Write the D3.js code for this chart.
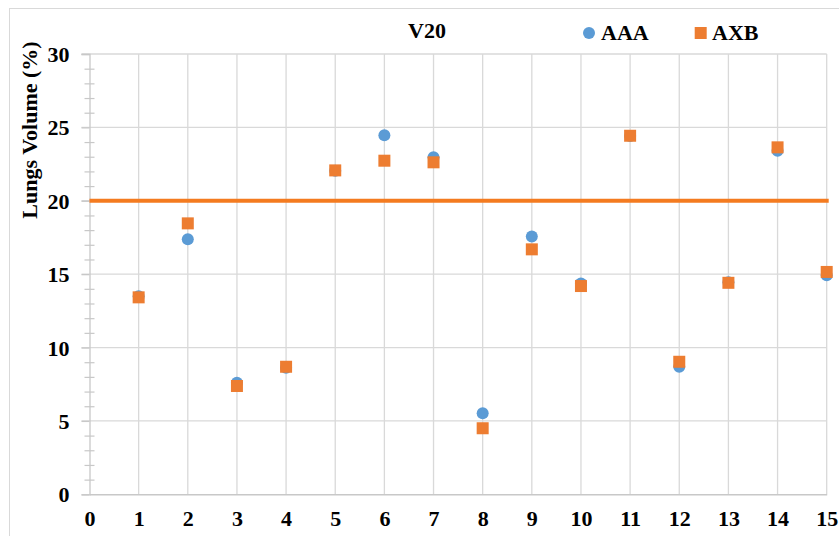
<!DOCTYPE html>
<html><head><meta charset="utf-8">
<script src="https://cdn.jsdelivr.net/npm/d3@7"></script>
<style>
html,body{margin:0;padding:0;background:#fff;}
text{font-family:"Liberation Serif","Times New Roman",serif;font-weight:bold;}
</style></head>
<body><svg id="c" width="839" height="536"></svg>
<script>
const categories = [1,2,3,4,5,6,7,8,9,10,11,12,13,14,15];
const aaa = [13.5, 17.37, 7.6, 8.62, 22.05, 24.46, 22.96, 5.52, 17.57, 14.37, 24.42, 8.69, 14.45, 23.4, 14.93];
const axb = [13.42, 18.46, 7.38, 8.69, 22.07, 22.73, 22.62, 4.5, 16.69, 14.19, 24.43, 9.03, 14.41, 23.64, 15.15];
const xTicks = [0,1,2,3,4,5,6,7,8,9,10,11,12,13,14,15];
const yTicks = [0,5,10,15,20,25,30];
const yMinorTicks = [1,2,3,4,6,7,8,9,11,12,13,14,16,17,18,19,21,22,23,24,26,27,28,29];
const threshold = 20;
const title = "V20";
const seriesNames = ["AAA","AXB"];
const yTitle = "Lungs Volume (%)";

const svg = d3.select("#c");
const x = d3.scaleLinear().domain([0,15]).range([89.5,826.7]);
const y = d3.scaleLinear().domain([0,30]).range([494.3,54]);
const grid = "#d9d9d9";

// frame
svg.append("rect").attr("x",9.5).attr("y",8.5).attr("width",840).attr("height",540)
  .attr("fill","none").attr("stroke",grid).attr("stroke-width",1);

// horizontal gridlines
svg.append("g").selectAll("line").data(yTicks.filter(d=>d>0)).join("line")
  .attr("x1",x(0)-8).attr("x2",x(15)).attr("y1",d=>y(d)).attr("y2",d=>y(d))
  .attr("stroke",grid).attr("stroke-width",1.3);
// vertical gridlines
svg.append("g").selectAll("line").data(xTicks.filter(d=>d>0)).join("line")
  .attr("x1",d=>x(d)).attr("x2",d=>x(d)).attr("y1",y(30)).attr("y2",y(0))
  .attr("stroke",grid).attr("stroke-width",1.3);

// y axis major
const yAxis = svg.append("g").attr("transform",`translate(${x(0)},0)`)
  .call(d3.axisLeft(y).tickValues(yTicks).tickSize(8).tickPadding(12));
yAxis.select(".domain").attr("stroke","#c8c8c8").attr("stroke-width",1.3);
yAxis.selectAll(".tick line").attr("stroke","#c8c8c8").attr("stroke-width",1.3);
yAxis.selectAll(".tick text").attr("font-size",22).attr("fill","#000")
  .attr("font-family","Liberation Serif").attr("font-weight","bold").attr("dy","0.34em");

// y axis minor ticks (crossing)
const yMinor = svg.append("g").attr("transform",`translate(${x(0)+5},0)`)
  .call(d3.axisLeft(y).tickValues(yMinorTicks).tickSize(10).tickFormat(""));
yMinor.select(".domain").remove();
yMinor.selectAll(".tick line").attr("stroke","#c8c8c8").attr("stroke-width",1.2);

// x axis
const xAxis = svg.append("g").attr("transform",`translate(0,${y(0)})`)
  .call(d3.axisBottom(x).tickValues(xTicks).tickSize(0).tickPadding(21));
xAxis.select(".domain").attr("stroke","#c8c8c8").attr("stroke-width",1.6);
xAxis.selectAll(".tick text").attr("font-size",22).attr("fill","#000")
  .attr("font-family","Liberation Serif").attr("font-weight","bold").attr("dy","0.5em");

// threshold line
svg.append("line").attr("x1",x(0)).attr("x2",x(15)+2).attr("y1",y(threshold)).attr("y2",y(threshold))
  .attr("stroke","#f47b20").attr("stroke-width",4);

// AAA circles
svg.append("g").selectAll("circle").data(categories).join("circle")
  .attr("cx",(d)=>x(d)).attr("cy",(d,i)=>y(aaa[i])).attr("r",6)
  .attr("fill","#5b9bd5");
// AXB squares
const s = 12;
svg.append("g").selectAll("rect").data(categories).join("rect")
  .attr("x",d=>x(d)-s/2).attr("y",(d,i)=>y(axb[i])-s/2).attr("width",s).attr("height",s)
  .attr("fill","#ed7d31");

// title
svg.append("text").attr("x",427).attr("y",37.5).attr("text-anchor","middle")
  .attr("font-size",22).text(title);

// legend
svg.append("circle").attr("cx",589).attr("cy",33).attr("r",6).attr("fill","#5b9bd5");
svg.append("text").attr("x",601).attr("y",40).attr("font-size",22).text(seriesNames[0]);
svg.append("rect").attr("x",700.7-6).attr("y",27).attr("width",12).attr("height",12).attr("fill","#ed7d31");
svg.append("text").attr("x",712).attr("y",40).attr("font-size",22).text(seriesNames[1]);

// y title
svg.append("text").attr("transform","translate(37,130) rotate(-90)").attr("text-anchor","middle")
  .attr("font-size",22).text(yTitle);
</script></body></html>
